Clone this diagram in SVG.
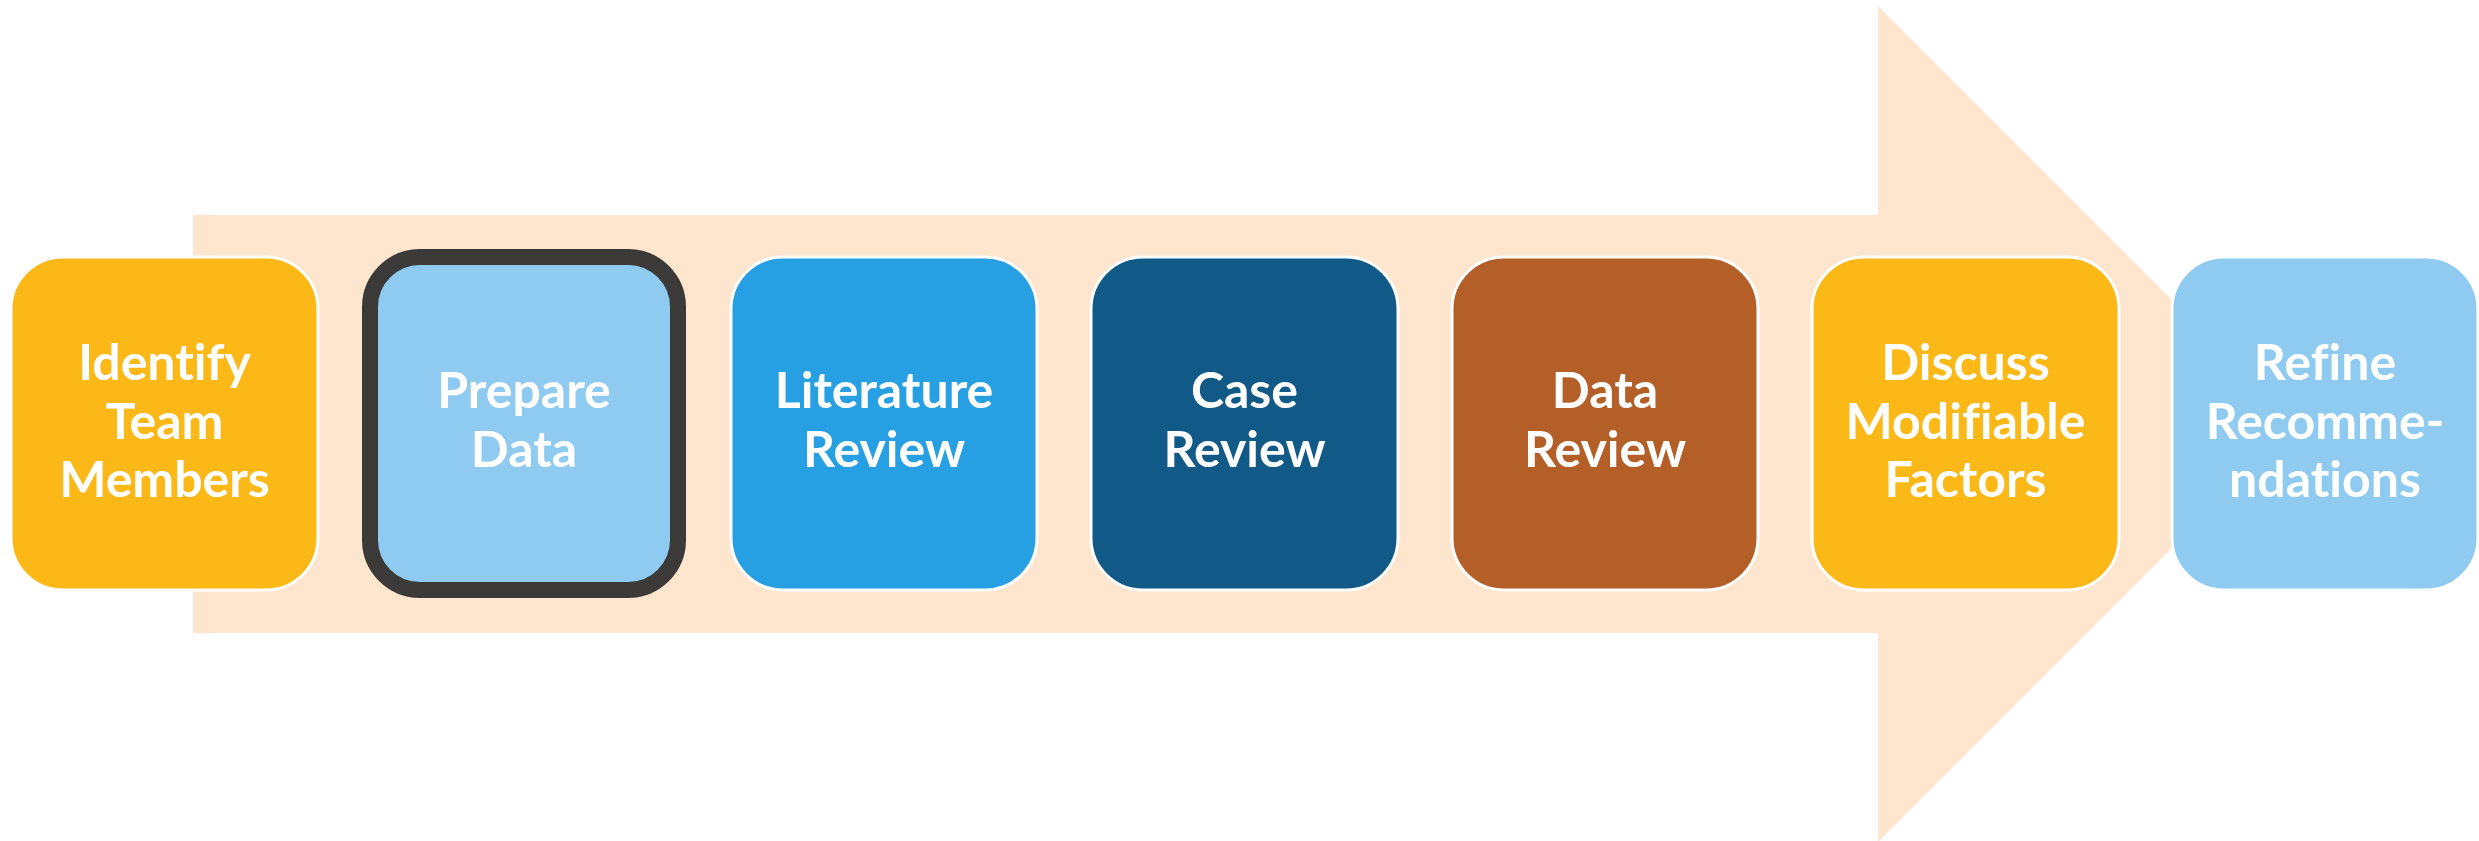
<svg xmlns="http://www.w3.org/2000/svg" width="2479" height="841" viewBox="0 0 2479 841">
<style>
.box{stroke:#FFFFFF;stroke-width:3}
.lbl{font-family:Lato,"Liberation Sans",sans-serif;font-weight:bold;font-size:50px;fill:#FFFFFF;text-anchor:middle;font-variant-ligatures:none;font-feature-settings:"liga" 0}
</style>
<rect width="2479" height="841" fill="#FFFFFF"/>
<g id="arrow">
<polygon points="193,215 1878,215 1878,6 2296,424 1878,842 1878,633 193,633" fill="#FDE6CD"/>
</g>
<g id="connectors"></g>
<g id="n1">
<rect class="box" x="11" y="257" width="307" height="333" rx="52" fill="#FBB817"/>
<text class="lbl"><tspan x="164.5" y="380">Identify</tspan><tspan x="164.5" y="439">Team</tspan><tspan x="164.5" y="497">Members</tspan></text>
</g>
<g id="n2">
<rect x="370" y="257" width="308" height="333" rx="50" fill="#8FCBF1" stroke="#3B3A38" stroke-width="16"/>
<text class="lbl"><tspan x="524" y="408">Prepare</tspan><tspan x="524" y="467">Data</tspan></text>
</g>
<g id="n3">
<rect class="box" x="731" y="257" width="306" height="333" rx="52" fill="#279FE3"/>
<text class="lbl"><tspan x="884" y="408">Literature</tspan><tspan x="884" y="467">Review</tspan></text>
</g>
<g id="n4">
<rect class="box" x="1091" y="257" width="307" height="333" rx="52" fill="#115986"/>
<text class="lbl"><tspan x="1244.5" y="408">Case</tspan><tspan x="1244.5" y="467">Review</tspan></text>
</g>
<g id="n5">
<rect class="box" x="1452" y="257" width="306" height="333" rx="52" fill="#B45F28"/>
<text class="lbl"><tspan x="1605" y="408">Data</tspan><tspan x="1605" y="467">Review</tspan></text>
</g>
<g id="n6">
<rect class="box" x="1812" y="257" width="307" height="333" rx="52" fill="#FBB817"/>
<text class="lbl"><tspan x="1965.5" y="380">Discuss</tspan><tspan x="1965.5" y="439">Modifiable</tspan><tspan x="1965.5" y="497">Factors</tspan></text>
</g>
<g id="n7">
<rect class="box" x="2172" y="257" width="306" height="333" rx="52" fill="#8FCBF1"/>
<text class="lbl"><tspan x="2325" y="380">Refine</tspan><tspan x="2325" y="439">Recomme-</tspan><tspan x="2325" y="497">ndations</tspan></text>
</g>
</svg>
